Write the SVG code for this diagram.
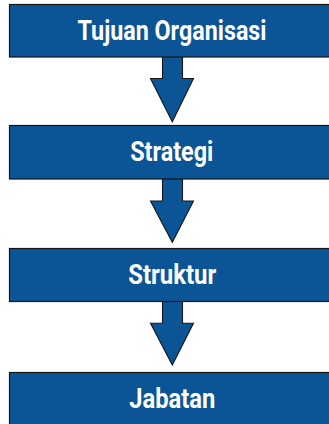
<svg xmlns="http://www.w3.org/2000/svg" width="329" height="424" viewBox="0 0 329 424">
  <style>
    .box { fill: #0b5596; stroke: #151515; stroke-width: 1.2; }
    .arrow { fill: #0b5596; stroke: #151515; stroke-width: 1.1; stroke-linejoin: miter; }
    .label { fill: #ffffff; font-family: "Liberation Sans Narrow", "Roboto", "Liberation Sans", sans-serif; font-weight: bold; font-size: 27px; text-anchor: middle; }
  </style>
  <rect width="329" height="424" fill="#ffffff"/>
  <!-- connectors: block arrows between stages -->
  <g id="connectors">
    <path class="arrow" d="M162.5,57 V78.5 H150.5 L172.3,121.7 L193.5,78.5 H182.5 V57"/>
    <path class="arrow" d="M162.5,179 V201 H150.5 L172.3,242.3 L193.5,201 H182.5 V179"/>
    <path class="arrow" d="M162.5,301.5 V323.3 H150.5 L172.3,365 L193.5,323.3 H182.5 V301.5"/>
  </g>
  <g id="tujuan">
    <rect class="box" x="9.5" y="4.5" width="328" height="52.5"/>
    <text class="label" x="172" y="40" textLength="189" lengthAdjust="spacingAndGlyphs">Tujuan Organisasi</text>
  </g>
  <g id="strategi">
    <rect class="box" x="9.5" y="125.5" width="328" height="53.5"/>
    <text class="label" x="171.7" y="160.7" textLength="83" lengthAdjust="spacingAndGlyphs">Strategi</text>
  </g>
  <g id="struktur">
    <rect class="box" x="9.5" y="248.5" width="328" height="53"/>
    <text class="label" x="172.2" y="284" textLength="88" lengthAdjust="spacingAndGlyphs">Struktur</text>
  </g>
  <g id="jabatan">
    <rect class="box" x="9.5" y="372.5" width="328" height="60"/>
    <text class="label" x="172.2" y="408.3" textLength="86" lengthAdjust="spacingAndGlyphs">Jabatan</text>
  </g>
</svg>
